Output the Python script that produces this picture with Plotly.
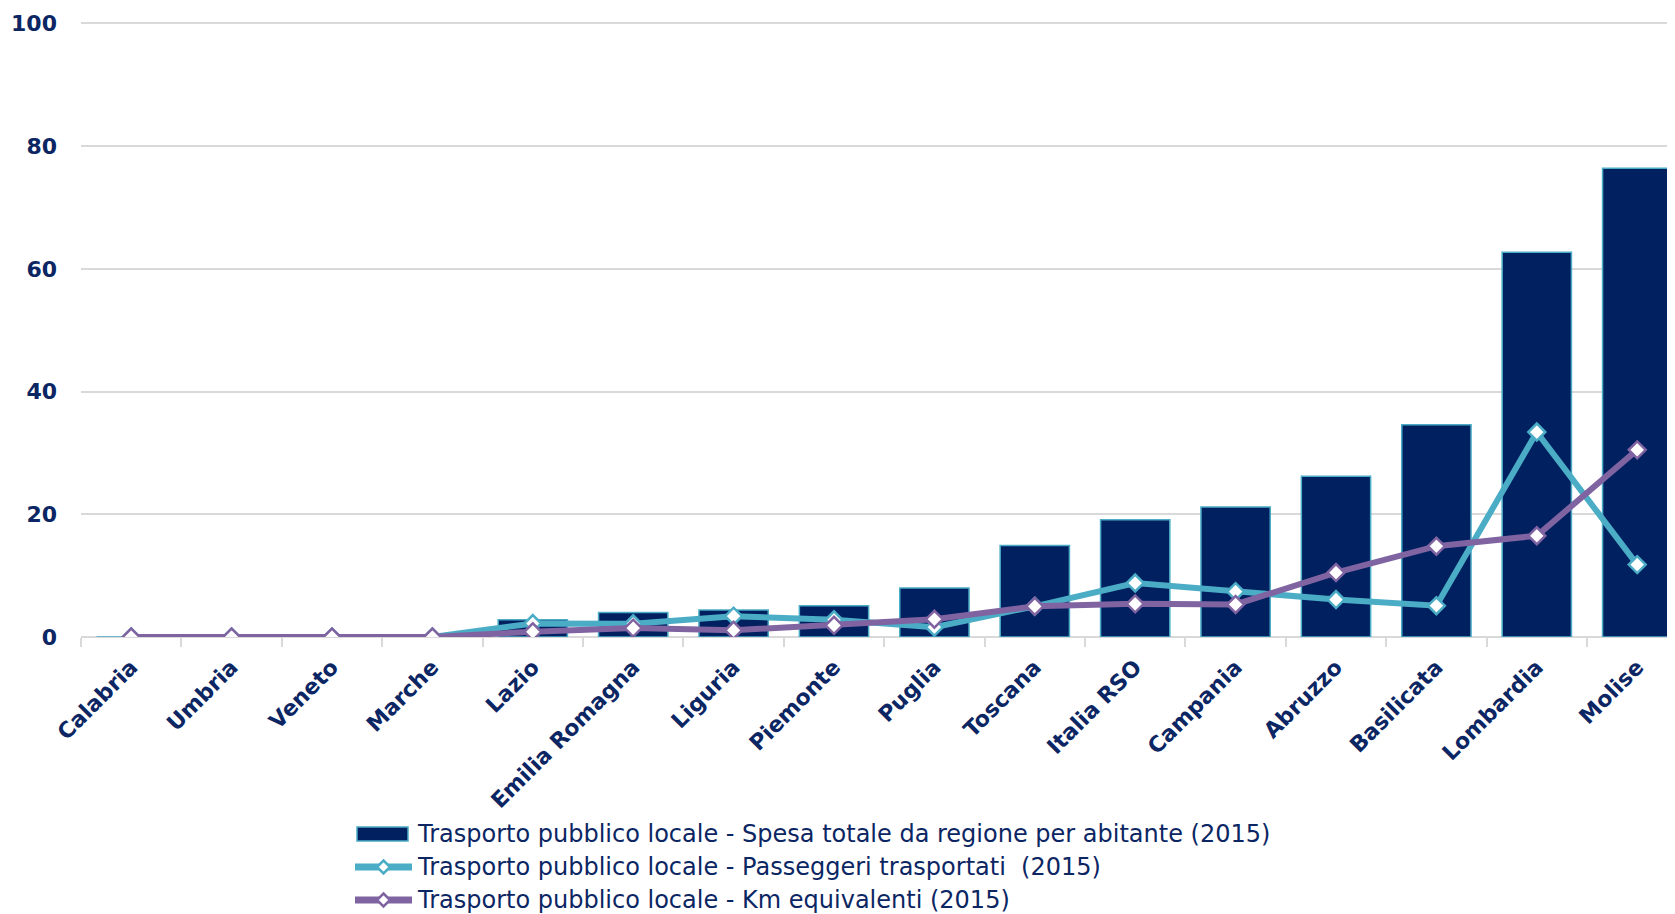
import plotly.graph_objects as go

categories = ["Calabria", "Umbria", "Veneto", "Marche", "Lazio", "Emilia Romagna", "Liguria",
              "Piemonte", "Puglia", "Toscana", "Italia RSO", "Campania", "Abruzzo", "Basilicata",
              "Lombardia", "Molise"]
spesa = [0, 0, 0, 0, 2.8, 4.0, 4.4, 5.1, 8.0, 14.9, 19.1, 21.2, 26.2, 34.6, 62.7, 76.4]
passeggeri = [0, 0, 0, 0, 2.2, 2.15, 3.4, 2.8, 1.6, 5.0, 8.8, 7.4, 6.1, 5.1, 33.4, 11.8]
km = [0, 0, 0, 0, 0.85, 1.45, 1.1, 1.9, 2.9, 5.0, 5.4, 5.3, 10.5, 14.8, 16.5, 30.5]
y_ticks = [0, 20, 40, 60, 80, 100]

NAVY = "#002060"
CYAN = "#4BACC6"
PURPLE = "#8064A2"
TXT = "#0b2663"

name_bar = "Trasporto pubblico locale - Spesa totale da regione per abitante (2015)"
name_pass = "Trasporto pubblico locale - Passeggeri trasportati  (2015)"
name_km = "Trasporto pubblico locale - Km equivalenti (2015)"

# page body adds an 8px offset, so the figure is drawn 8px smaller / shifted
OFF = 8
W, H = 1675 - OFF, 914 - OFF
ML, MR, MT, MB = 81 - OFF, 0, 21 - OFF, 277
PW, PH = W - ML - MR, H - MT - MB
CAT_PX = 100.4  # category spacing of the original (plot runs past the right edge)
x_hi = -0.5 + PW / CAT_PX


def px(x):
    return (x - OFF - ML) / PW


def py(y):
    return (H - MB - (y - OFF)) / PH


fig = go.Figure()
fig.add_trace(go.Bar(
    x=categories, y=spesa, name=name_bar, showlegend=False,
    marker=dict(color=NAVY, line=dict(color=CYAN, width=1.5)),
))
fig.add_trace(go.Scatter(
    x=categories, y=passeggeri, mode="lines+markers", name=name_pass, showlegend=False,
    line=dict(color=CYAN, width=6),
    marker=dict(symbol="diamond", size=13, color="white", line=dict(color=CYAN, width=2.5)),
))
fig.add_trace(go.Scatter(
    x=categories, y=km, mode="lines+markers", name=name_km, showlegend=False,
    line=dict(color=PURPLE, width=6),
    marker=dict(symbol="diamond", size=13, color="white", line=dict(color=PURPLE, width=2.5)),
))

# Legend drawn below the chart (positions in reference pixels)
rows = [(name_bar, NAVY, "bar", 834), (name_pass, CYAN, "line", 867), (name_km, PURPLE, "line", 900)]
shapes = []
annotations = []
for name, col, kind, yc in rows:
    if kind == "bar":
        shapes.append(dict(type="rect", xref="paper", yref="paper",
                           x0=px(357), x1=px(408), y0=py(yc + 7), y1=py(yc - 7),
                           fillcolor=NAVY, line=dict(color=CYAN, width=1.5)))
    else:
        shapes.append(dict(type="line", xref="paper", yref="paper",
                           x0=px(355), x1=px(412), y0=py(yc), y1=py(yc),
                           line=dict(color=col, width=7)))
        cx = 383.5
        d = 6.5
        path = "M {},{} L {},{} L {},{} L {},{} Z".format(
            px(cx), py(yc - d), px(cx + d), py(yc), px(cx), py(yc + d), px(cx - d), py(yc))
        shapes.append(dict(type="path", xref="paper", yref="paper", path=path,
                           fillcolor="white", line=dict(color=col, width=2.5)))
    annotations.append(dict(text=name, xref="paper", yref="paper", x=px(415), y=py(yc),
                            xanchor="left", yanchor="middle", showarrow=False,
                            font=dict(family="DejaVu Sans", size=24, color=TXT)))

fig.update_layout(
    width=W, height=H,
    margin=dict(l=ML, r=MR, t=MT, b=MB),
    plot_bgcolor="white", paper_bgcolor="white",
    bargap=0.31,
    showlegend=False,
    shapes=shapes,
    annotations=annotations,
    font=dict(family="DejaVu Sans", color=TXT),
)
fig.update_yaxes(
    range=[0, 100.4], tickvals=y_ticks, showgrid=True, gridcolor="#d9d9d9", gridwidth=1.5,
    zeroline=True, zerolinecolor="#d9d9d9", zerolinewidth=1.5,
    tickfont=dict(family="DejaVu Sans", size=22, color=TXT, weight="bold"),
    ticks="", showline=False, ticklabelstandoff=23, automargin=False,
)
fig.update_xaxes(
    type="category", range=[-0.5, x_hi],
    tickangle=-45, tickson="boundaries", ticks="outside", ticklen=9,
    tickcolor="#d9d9d9", tickwidth=1.5, showgrid=False, showline=False,
    tickfont=dict(family="DejaVu Sans", size=22, color=TXT, weight="bold"),
    ticklabelstandoff=12, automargin=False,
)

fig.write_html("out.html")
